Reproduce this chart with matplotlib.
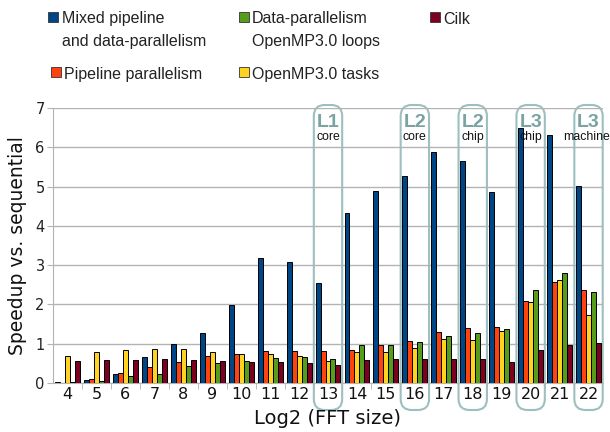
import matplotlib
matplotlib.use("Agg")
import matplotlib.pyplot as plt
import numpy as np
from matplotlib.patches import FancyBboxPatch, Rectangle
from matplotlib.transforms import IdentityTransform


fft_sizes = list(range(4, 23))

mixed = [0.02, 0.08, 0.24, 0.65, 0.99, 1.27, 1.98, 3.18, 3.07, 2.55, 4.32, 4.89, 5.27,
         5.87, 5.66, 4.86, 6.48, 6.31, 5.02]
pipeline = [0.01, 0.09, 0.25, 0.42, 0.53, 0.70, 0.73, 0.81, 0.82, 0.82, 0.84, 0.98, 1.06,
            1.29, 1.40, 1.42, 2.09, 2.56, 2.37]
omp_tasks = [0.70, 0.79, 0.85, 0.87, 0.87, 0.79, 0.75, 0.75, 0.70, 0.56, 0.78, 0.79, 0.89,
             1.12, 1.09, 1.32, 2.07, 2.61, 1.74]
omp_loops = [0.02, 0.05, 0.18, 0.22, 0.43, 0.51, 0.55, 0.64, 0.65, 0.62, 0.97, 0.98, 1.04,
             1.20, 1.28, 1.37, 2.37, 2.79, 2.32]
cilk = [0.56, 0.58, 0.59, 0.60, 0.59, 0.56, 0.53, 0.53, 0.51, 0.45, 0.59, 0.61, 0.61,
        0.62, 0.60, 0.54, 0.85, 0.98, 1.02]

series = [mixed, pipeline, omp_tasks, omp_loops, cilk]
colors = ["#004586", "#ff420e", "#ffd320", "#579d1c", "#7e0021"]

# cache level annotations: (fft size, level, scope)
cache_marks = [(13, "L1", "core"), (16, "L2", "core"), (18, "L2", "chip"),
               (20, "L3", "chip"), (22, "L3", "machine")]

W, H = 610, 432
fig = plt.figure(figsize=(W / 100, H / 100), dpi=100)
ax = fig.add_axes([53 / W, (H - 383) / H, 550 / W, 275 / H])
ax.patch.set_visible(False)

x = np.arange(len(fft_sizes))
bw = 0.172
for k, (vals, c) in enumerate(zip(series, colors)):
    ax.bar(x + (k - 2) * bw, vals, width=bw, color=c, edgecolor="black",
           linewidth=0.7, zorder=3)

ax.set_xlim(-0.5, len(fft_sizes) - 0.5)
ax.set_ylim(0, 7)
ax.set_yticks(range(8))
ax.yaxis.grid(True, color="#b3b3b3", linewidth=1)
ax.set_axisbelow(True)
ax.set_xticks(x)
ax.set_xticklabels([str(s) for s in fft_sizes], fontsize=11.5, color="#111111")
ax.set_xticks(x[:-1] + 0.5, minor=True)
ax.tick_params(axis="x", which="major", length=0, pad=3)
ax.tick_params(axis="x", which="minor", length=4, color="#b3b3b3")
ax.tick_params(axis="y", length=4, color="#b3b3b3", labelsize=10.5, pad=2,
               labelcolor="#222222")
for s in ["top", "right"]:
    ax.spines[s].set_visible(False)
for s in ["left", "bottom"]:
    ax.spines[s].set_color("#b3b3b3")

ax.set_ylabel("Speedup vs. sequential", fontsize=13.5, labelpad=6, color="#111111")
ax.set_xlabel("Log2 (FFT size)", fontsize=14, labelpad=5, color="#111111")

# rounded boxes around cache-size transitions (drawn in pixel coords)
box_color = "#9cbfbf"
r = 11
top_px, bot_px = 105, 410
for size, level, scope in cache_marks:
    i = fft_sizes.index(size)
    x0 = ax.transData.transform((i - 0.49, 0))[0]
    x1 = ax.transData.transform((i + 0.49, 0))[0]
    y0 = H - bot_px
    y1 = H - top_px
    box = FancyBboxPatch((x0 + r, y0 + r), (x1 - x0) - 2 * r, (y1 - y0) - 2 * r,
                         boxstyle=f"round,pad={r},rounding_size={r}",
                         transform=IdentityTransform(), facecolor="none",
                         edgecolor=box_color, linewidth=1.5, zorder=-1)
    fig.add_artist(box)
    ax.text(i, (383 - 122) / 39.3, level, ha="center", va="center",
            fontsize=14, fontweight="bold", color="#7aa3a3",
            family="Liberation Sans", clip_on=False, zorder=4)
    # the last label runs up to the right edge, nudge it in a bit
    sx = i - 0.08 if scope == "machine" else i
    ax.text(sx, (383 - 136.5) / 39.3, scope, ha="center", va="center",
            fontsize=8.8, color="#111111", family="Liberation Sans",
            clip_on=False, zorder=4)

# legend, placed by hand
legend_items = [
    (48, 12, 62, ["Mixed pipeline", "and data-parallelism"], colors[0]),
    (51, 67, 64, ["Pipeline parallelism"], colors[1]),
    (239, 12, 252, ["Data-parallelism", "OpenMP3.0 loops"], colors[3]),
    (239, 67, 252, ["OpenMP3.0 tasks"], colors[2]),
    (430, 12, 443, ["Cilk"], colors[4]),
]
for sx, sy, tx, lines, c in legend_items:
    fig.add_artist(Rectangle((sx / W, 1 - (sy + 10) / H), 10 / W, 10 / H,
                             transform=fig.transFigure, facecolor=c,
                             edgecolor="#333333", linewidth=0.6))
    for j, line in enumerate(lines):
        fig.text(tx / W, 1 - (sy + 11.5 + j * 22.5) / H, line, fontsize=11.5,
                 family="Liberation Sans", color="#222222", va="baseline")

fig.savefig("out.png", dpi=100)
